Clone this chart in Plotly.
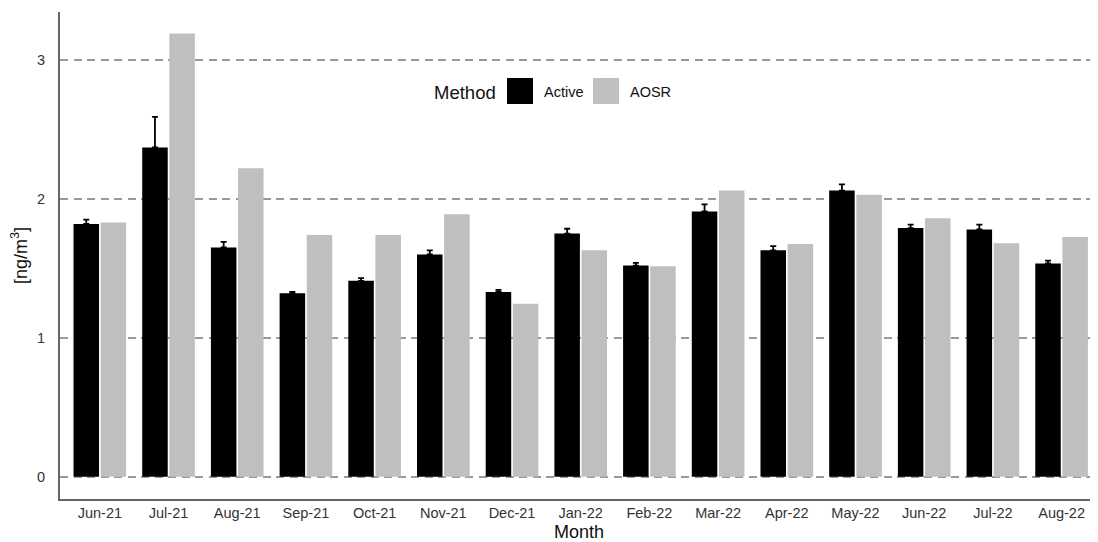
import plotly.graph_objects as go

months = ["Jun-21", "Jul-21", "Aug-21", "Sep-21", "Oct-21", "Nov-21", "Dec-21",
          "Jan-22", "Feb-22", "Mar-22", "Apr-22", "May-22", "Jun-22", "Jul-22", "Aug-22"]
active = [1.82, 2.37, 1.65, 1.32, 1.41, 1.60, 1.33, 1.75, 1.52, 1.91, 1.63, 2.06, 1.79, 1.78, 1.535]
active_err = [0.03, 0.22, 0.04, 0.01, 0.02, 0.03, 0.015, 0.035, 0.02, 0.05, 0.03, 0.045, 0.025, 0.035, 0.02]
aosr = [1.83, 3.19, 2.22, 1.74, 1.74, 1.89, 1.245, 1.63, 1.515, 2.06, 1.675, 2.03, 1.86, 1.68, 1.725]
series_names = ["Active", "AOSR"]
colors = ["#000000", "#bfbfbf"]

FONT = "Liberation Sans, Arial, sans-serif"

fig = go.Figure()
fig.add_trace(go.Bar(
    x=months, y=active, name=series_names[0], marker_color=colors[0],
    marker_line_width=0, showlegend=False,
    error_y=dict(type="data", array=active_err, arrayminus=[0] * len(active_err),
                 symmetric=False, color="#000000", thickness=1.8, width=3),
))
fig.add_trace(go.Bar(
    x=months, y=aosr, name=series_names[1], marker_color=colors[1],
    marker_line_width=0, showlegend=False,
))

# page body has an 8px margin; figure is offset by it
OFF = 8
W, H = 1098 - OFF, 542 - OFF
L, R, T, B = 60 - OFF, 0, 12 - OFF, 542 - 499
pw, ph = W - L - R, H - T - B

def px(x):
    return (x - OFF - L) / pw

def py(y):
    return (H - B - (y - OFF)) / ph

shapes = [
    dict(type="rect", xref="paper", yref="paper", x0=px(507), x1=px(533), y0=py(104), y1=py(78),
         fillcolor=colors[0], line=dict(width=0)),
    dict(type="rect", xref="paper", yref="paper", x0=px(593), x1=px(619), y0=py(104), y1=py(78),
         fillcolor=colors[1], line=dict(width=0)),
]
annotations = [
    dict(text="Method", xref="paper", yref="paper", x=px(498), y=py(92), xanchor="right",
         yanchor="middle", showarrow=False, font=dict(family=FONT, size=18.5, color="#111")),
    dict(text=series_names[0], xref="paper", yref="paper", x=px(542), y=py(92), xanchor="left",
         yanchor="middle", showarrow=False, font=dict(family=FONT, size=14.5, color="#111")),
    dict(text=series_names[1], xref="paper", yref="paper", x=px(628), y=py(92), xanchor="left",
         yanchor="middle", showarrow=False, font=dict(family=FONT, size=14.5, color="#111")),
]

fig.update_layout(
    width=W, height=H,
    margin=dict(l=L, r=R, t=T, b=B, pad=0),
    plot_bgcolor="white", paper_bgcolor="white",
    barmode="group", bargap=0.21, bargroupgap=0.06,
    font=dict(family=FONT, size=14, color="#333"),
    shapes=shapes, annotations=annotations,
    showlegend=False,
)
fig.update_xaxes(
    range=[-0.58, 14.53], showgrid=False, zeroline=False,
    showline=True, linecolor="#666", linewidth=2, ticks="", ticklabelstandoff=0,
    tickfont=dict(family=FONT, size=14.5, color="#333"),
    title=dict(text="Month", font=dict(family=FONT, size=18, color="#111"), standoff=5),
    automargin=False,
)
fig.update_yaxes(
    range=[-0.16, 3.345], tickvals=[0, 1, 2, 3], showgrid=True, gridcolor="#9a9a9a",
    gridwidth=1.8, griddash="8px,5.5px", zeroline=False,
    showline=True, linecolor="#666", linewidth=2, ticks="", ticklabelstandoff=10,
    tickfont=dict(family=FONT, size=14.5, color="#333"),
    title=dict(text="[ng/m<sup>3</sup>]", font=dict(family=FONT, size=18, color="#111"), standoff=5),
    automargin=False,
)

fig.write_html("out.html")
